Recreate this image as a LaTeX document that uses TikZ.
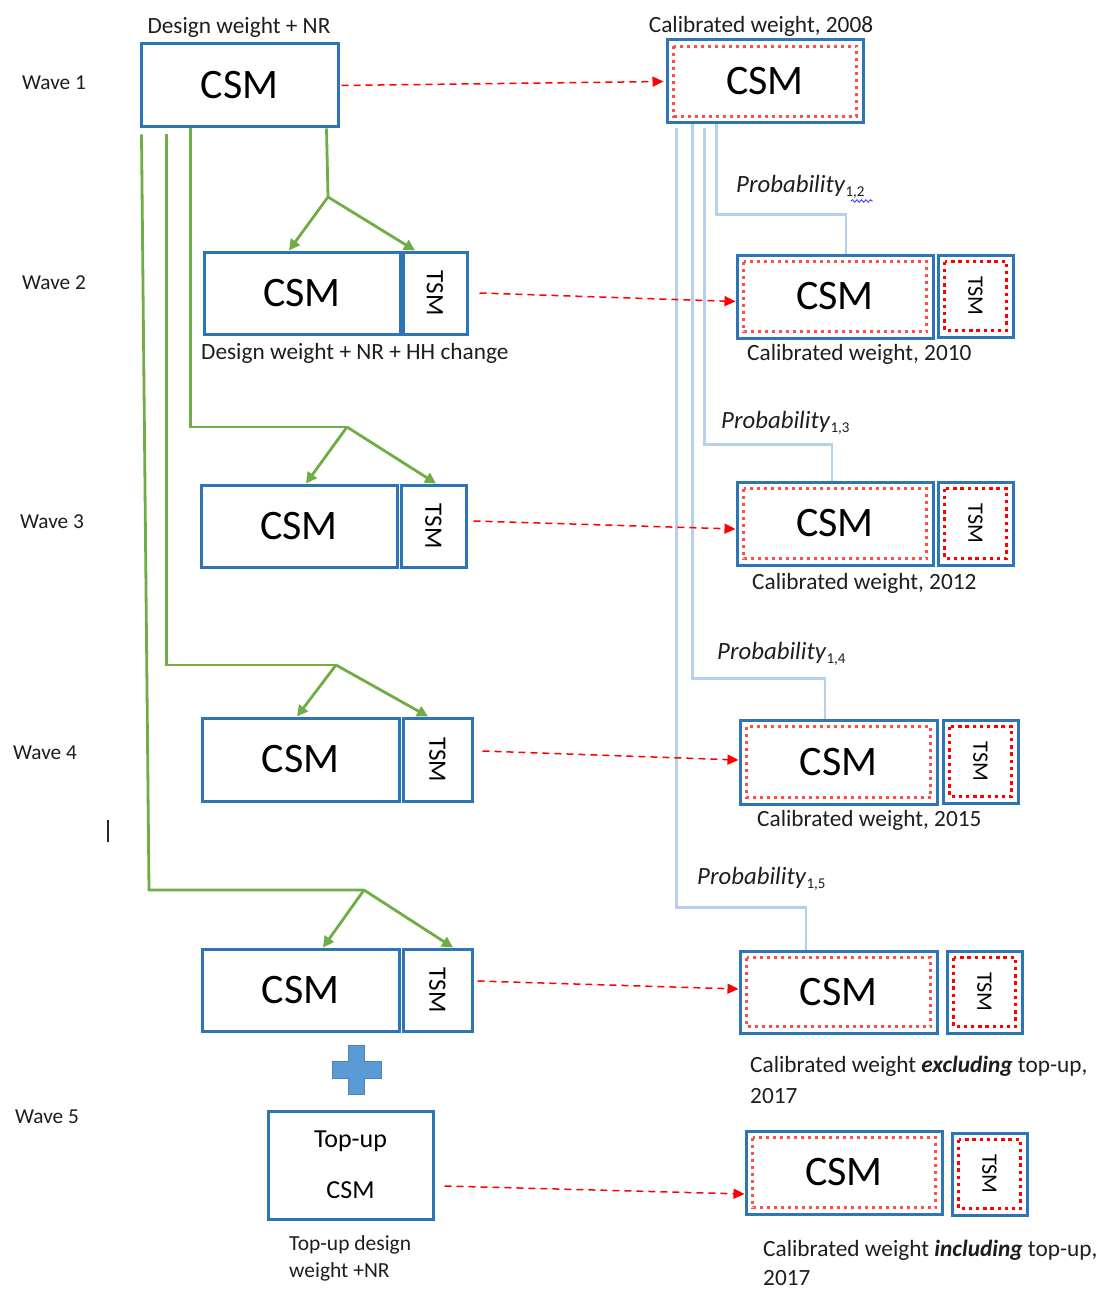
\documentclass[tikz,border=0pt]{standalone}
\usepackage{fontspec}
\setmainfont{Carlito}
\usetikzlibrary{arrows.meta,calc,decorations.pathmorphing}
\definecolor{boxblue}{HTML}{2E75B6}
\definecolor{grnc}{HTML}{70AD47}
\definecolor{lblue}{HTML}{B4D0EC}
\definecolor{plusblue}{HTML}{5B9BD5}
\definecolor{txt}{HTML}{1E1E1E}
\begin{document}
\begin{tikzpicture}[x=1pt,y=1pt,
  box/.style={draw=boxblue, line width=3pt, fill=white, inner sep=0pt, text=black},
  csm/.style={box, font=\fontsize{42}{48}\selectfont},
  tsml/.style={box, font=\fontsize{25}{30}\selectfont},
  tsmr/.style={box, font=\fontsize{22}{26}\selectfont},
  lab/.style={text=txt, inner sep=0pt, font=\fontsize{23.3}{27}\selectfont},
  wave/.style={text=txt, inner sep=0pt, anchor=west, font=\fontsize{21.3}{25}\selectfont},
  problab/.style={text=txt, inner sep=0pt, anchor=west, font=\fontsize{24.8}{29}\selectfont},
  sub/.style={},
  gline/.style={draw=grnc, line width=2.8pt},
  garr/.style={draw=grnc, line width=2.8pt, -{Triangle[length=11pt,width=11pt]}},
  pline/.style={draw=lblue, line width=2.8pt},
  rdash/.style={draw=red, line width=1.5pt, dash pattern=on 7pt off 5pt, -{Triangle[length=11pt,width=10pt]}},
  pinkdot/.style={draw=red!70, line width=3.2pt, dash pattern=on 3pt off 4pt},
  reddot/.style={draw=red, line width=3.4pt, dash pattern=on 3.4pt off 3.8pt},
]
\useasboundingbox (0,0) rectangle (1102,-1289);
\fill[white] (0,0) rectangle (1102,-1289);

% wave labels
\node[wave] (wv1) at (22,-83) {Wave 1};
\node[wave] (wv2) at (22,-283) {Wave 2};
\node[wave] (wv3) at (20,-522) {Wave 3};
\node[wave] (wv4) at (13,-753) {Wave 4};
\node[wave] (wv5) at (15,-1117) {Wave 5};
\draw[line width=1.6pt, black!85] (108,-820) -- (108,-842);

% junctions of the green connectors
\coordinate (j1) at (328,-197);
\coordinate (j2) at (347,-427);
\coordinate (j3) at (336,-665);
\coordinate (j4) at (364,-890);

% left boxes
\node[csm, minimum width=197, minimum height=83] (w1) at (239.5,-85.5) {CSM};
\node[csm, minimum width=196, minimum height=82] (l2c) at (302,-293) {CSM};
\node[tsml, minimum width=64, minimum height=82] (l2t) at (435,-293) {\rotatebox{-90}{TSM}};
\node[csm, minimum width=196, minimum height=82] (l3c) at (299,-526) {CSM};
\node[tsml, minimum width=65, minimum height=82] (l3t) at (433.5,-526) {\rotatebox{-90}{TSM}};
\node[csm, minimum width=197, minimum height=83] (l4c) at (300.5,-759.5) {CSM};
\node[tsml, minimum width=69, minimum height=83] (l4t) at (437.5,-759.5) {\rotatebox{-90}{TSM}};
\node[csm, minimum width=197, minimum height=82] (l5c) at (300.5,-990) {CSM};
\node[tsml, minimum width=69, minimum height=82] (l5t) at (437.5,-990) {\rotatebox{-90}{TSM}};
\node[box, minimum width=165, minimum height=108, align=center, font=\fontsize{26}{31}\selectfont] (tu) at (350.5,-1165) {Top-up\\[20pt]CSM};

% plus sign
\filldraw[fill=plusblue, draw=plusblue!85!black, line width=0.8pt]
  (348,-1045) -- (364,-1045) -- (364,-1061) -- (381,-1061) -- (381,-1078) -- (364,-1078)
  -- (364,-1094) -- (348,-1094) -- (348,-1078) -- (332,-1078) -- (332,-1061) -- (348,-1061) -- cycle;

% left labels
\node[lab] (dw1) at (239,-27) {Design weight + NR};
\node[lab, anchor=west] (dw2) at (201,-353) {Design weight + NR + HH change};
\node[lab, anchor=west, align=left, font=\fontsize{21.5}{27}\selectfont] (dw5) at (289,-1258) {Top-up design\\weight +NR};

% right boxes
\node[csm, minimum width=196, minimum height=83] (r1) at (765,-81.5) {CSM};
\node[csm, minimum width=196, minimum height=83] (r2c) at (835,-296.5) {CSM};
\node[tsmr, minimum width=75, minimum height=82] (r2t) at (975.5,-296) {\rotatebox{-90}{TSM}};
\node[csm, minimum width=196, minimum height=83] (r3c) at (835,-523.5) {CSM};
\node[tsmr, minimum width=75, minimum height=83] (r3t) at (975.5,-523.5) {\rotatebox{-90}{TSM}};
\node[csm, minimum width=197, minimum height=84] (r4c) at (838.5,-762) {CSM};
\node[tsmr, minimum width=75, minimum height=83] (r4t) at (980.5,-761.5) {\rotatebox{-90}{TSM}};
\node[csm, minimum width=197, minimum height=82] (r5c) at (838.5,-992) {CSM};
\node[tsmr, minimum width=75, minimum height=82] (r5t) at (984.5,-992) {\rotatebox{-90}{TSM}};
\node[csm, minimum width=196, minimum height=83] (r6c) at (844,-1172.5) {CSM};
\node[tsmr, minimum width=75, minimum height=82] (r6t) at (989.5,-1174) {\rotatebox{-90}{TSM}};

\foreach \n in {r1,r2c,r3c,r4c,r5c,r6c}
  \draw[pinkdot] ($(\n.north west)+(8,-8)$) rectangle ($(\n.south east)+(-8,8)$);
\foreach \n in {r2t,r3t,r4t,r5t,r6t}
  \draw[reddot] ($(\n.north west)+(8,-8)$) rectangle ($(\n.south east)+(-8,8)$);

% right labels
\node[lab] (cw1) at (761,-26) {Calibrated weight, 2008};
\node[lab, anchor=west] (cw2) at (747,-354) {Calibrated weight, 2010};
\node[lab, anchor=west] (cw3) at (752,-583) {Calibrated weight, 2012};
\node[lab, anchor=west] (cw4) at (757,-820) {Calibrated weight, 2015};
\node[lab, anchor=west, align=left, font=\fontsize{23.3}{31}\selectfont] (cw5) at (750,-1080) {Calibrated weight \textbf{\textit{excluding}} top-up,\\2017};
\node[lab, anchor=west, align=left, font=\fontsize{23.3}{29}\selectfont] (cw6) at (763,-1263) {Calibrated weight \textbf{\textit{including}} top-up,\\2017};

% green connectors
\draw[gline] ([xshift=187pt]w1.south west) -- (j1);
\draw[garr] (j1) -- ([xshift=-13pt]l2c.north);
\draw[garr] (j1) -- ([xshift=-20pt]l2t.north);
\draw[gline] ([xshift=51pt]w1.south west) |- (j2);
\draw[garr] (j2) -- ([xshift=7pt]l3c.north);
\draw[garr] (j2) -- ([xshift=2.5pt]l3t.north);
\draw[gline] ([xshift=27pt,yshift=-6pt]w1.south west) |- (j3);
\draw[garr] (j3) -- ([xshift=-3.5pt]l4c.north);
\draw[garr] (j3) -- ([xshift=-9.5pt]l4t.north);
\draw[gline] ([xshift=2pt,yshift=-6pt]w1.south west) -- (149,-890) -- (j4);
\draw[garr] (j4) -- ([xshift=22.5pt]l5c.north);
\draw[garr] (j4) -- ([xshift=15.5pt]l5t.north);

% light blue probability lines
\draw[pline] ([xshift=51pt]r1.south west) -- ++(0,-90) -| ([xshift=11pt]r2c.north);
\draw[pline] ([xshift=39pt,yshift=-4pt]r1.south west) -- ++(0,-316) -| ([xshift=-3pt]r3c.north);
\draw[pline] ([xshift=27pt]r1.south west) -- ++(0,-554) -| ([xshift=-13.5pt]r4c.north);
\draw[pline] ([xshift=11pt,yshift=-4pt]r1.south west) -- ++(0,-779) -| ([xshift=-32.5pt]r5c.north);

\node[problab] (p2) at (736,-187) {\textit{Probability}{\fontsize{15}{15}\selectfont\raisebox{-4pt}{1,2}}};
\draw[blue!80, line width=0.8pt, decorate, decoration={snake, amplitude=1.3pt, segment length=4.5pt}] (851,-201) -- (873,-201);
\node[problab] (p3) at (721,-423) {\textit{Probability}{\fontsize{15}{15}\selectfont\raisebox{-4pt}{1,3}}};
\node[problab] (p4) at (717,-654) {\textit{Probability}{\fontsize{15}{15}\selectfont\raisebox{-4pt}{1,4}}};
\node[problab] (p5) at (697,-879) {\textit{Probability}{\fontsize{15}{15}\selectfont\raisebox{-4pt}{1,5}}};

% red dashed arrows
\draw[rdash, shorten <=2pt] (w1.east) -- ([xshift=-2pt]r1.west);
\draw[rdash] ([xshift=11pt]l2t.east) -- ([yshift=-5pt]r2c.west);
\draw[rdash] ([xshift=6pt,yshift=5pt]l3t.east) -- ([yshift=-5.5pt]r3c.west);
\draw[rdash] ([xshift=9pt,yshift=8.5pt]l4t.east) -- ([yshift=2pt]r4c.west);
\draw[rdash] ([xshift=4pt,yshift=9pt]l5t.east) -- ([yshift=3pt]r5c.west);
\draw[rdash] ([xshift=10pt,yshift=-21pt]tu.east) -- ([yshift=-21.5pt]r6c.west);
\end{tikzpicture}
\end{document}
